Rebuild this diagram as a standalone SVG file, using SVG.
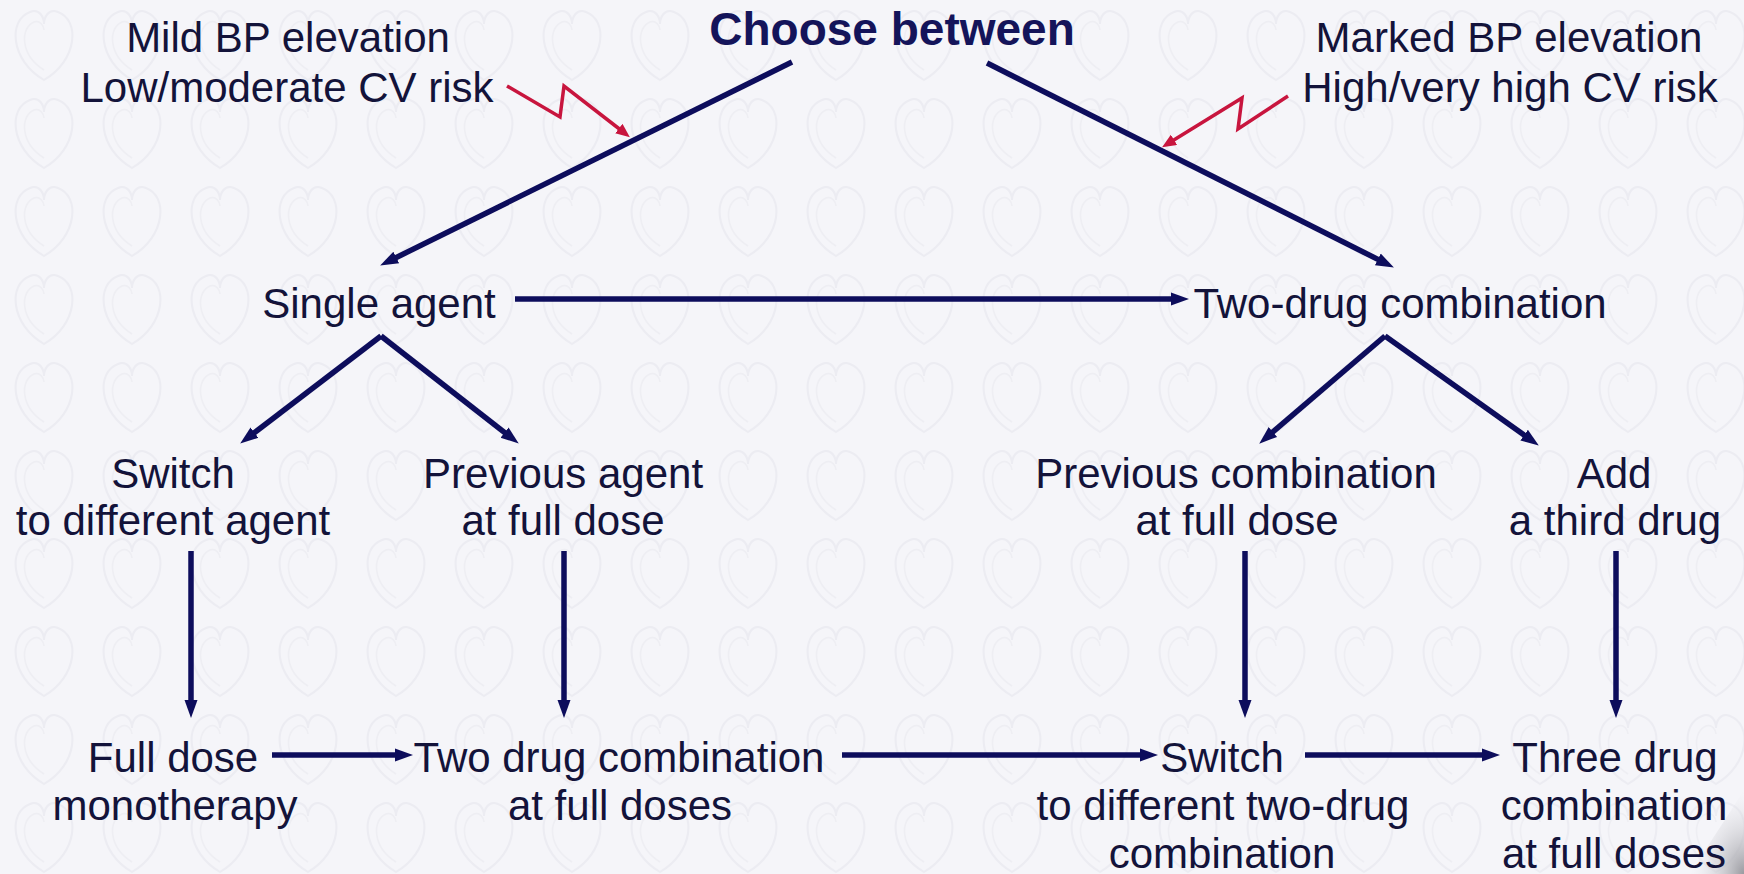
<svg xmlns="http://www.w3.org/2000/svg" width="1744" height="874" viewBox="0 0 1744 874">
  <style>
    .t { font-family: "Liberation Sans", Arial, sans-serif; font-size: 42px; fill: #13133a; text-anchor: middle; }
    .title { font-family: "Liberation Sans", Arial, sans-serif; font-size: 46px; font-weight: bold; fill: #14145a; text-anchor: middle; }
    .c { stroke: #0d0d5c; stroke-width: 5.5; fill: none; marker-end: url(#ah); }
    .r { stroke: #c8153e; stroke-width: 3.5; fill: none; stroke-linejoin: miter; marker-end: url(#rh); }
  </style>
  <defs>
    <marker id="ah" markerUnits="userSpaceOnUse" markerWidth="18" markerHeight="16" refX="5" refY="8" orient="auto">
      <path d="M0,1.5 L18,8 L0,14.5 z" fill="#0d0d5c"/>
    </marker>
    <marker id="rh" markerUnits="userSpaceOnUse" markerWidth="14" markerHeight="12" refX="4" refY="6" orient="auto">
      <path d="M0,0 L14,6 L0,12 z" fill="#c8153e"/>
    </marker>
    <pattern id="bg" patternUnits="userSpaceOnUse" width="88" height="88">
      <rect width="88" height="88" fill="#f5f5f9"/>
      <path d="M44,80 C10,60 8,20 30,12 C40,8 44,18 44,24 C44,18 48,8 58,12 C80,20 78,60 44,80 z" fill="none" stroke="#ececf2" stroke-width="2"/>
      <path d="M44,70 C20,55 20,28 34,22 C40,20 44,26 44,30" fill="none" stroke="#eeeef3" stroke-width="1.5"/>
    </pattern>
    <radialGradient id="curl" cx="1" cy="1" r="1">
      <stop offset="0" stop-color="#9a9aa0"/>
      <stop offset="1" stop-color="#e8e8ec" stop-opacity="0"/>
    </radialGradient>
  </defs>

  <rect width="1744" height="874" fill="url(#bg)"/>
  <path d="M1744,790 C1725,820 1705,850 1690,874 L1744,874 z" fill="url(#curl)"/>

  <g id="connectors">
    <line class="c" x1="792" y1="62" x2="391.8" y2="259.7"/>
    <line class="c" x1="987" y1="63" x2="1382.3" y2="261.6"/>
    <line class="c" x1="515" y1="299" x2="1176" y2="299"/>
    <line class="c" x1="381" y1="336" x2="250.5" y2="435.7"/>
    <line class="c" x1="381" y1="336" x2="508.5" y2="435.6"/>
    <line class="c" x1="1385" y1="336" x2="1269.1" y2="435.2"/>
    <line class="c" x1="1385" y1="336" x2="1528.2" y2="438"/>
    <line class="c" x1="191" y1="551" x2="191" y2="705"/>
    <line class="c" x1="564" y1="551" x2="564" y2="705"/>
    <line class="c" x1="1245" y1="551" x2="1245" y2="705"/>
    <line class="c" x1="1616" y1="551" x2="1616" y2="705"/>
    <line class="c" x1="272" y1="755" x2="400" y2="755"/>
    <line class="c" x1="842" y1="755" x2="1145" y2="755"/>
    <line class="c" x1="1305" y1="755" x2="1487" y2="755"/>
    <polyline class="r" points="507,86 560,117 564,86 622,131"/>
    <polyline class="r" points="1288,96 1238,129 1242,98 1170.6,141.9"/>
  </g>

  <g id="mild">
    <text class="t" x="288" y="52">Mild BP elevation</text>
    <text class="t" x="287" y="102">Low/moderate CV risk</text>
  </g>
  <g id="choose">
    <text class="title" x="892" y="45">Choose between</text>
  </g>
  <g id="marked">
    <text class="t" x="1509" y="52">Marked BP elevation</text>
    <text class="t" x="1510" y="102">High/very high CV risk</text>
  </g>
  <g id="single">
    <text class="t" x="379" y="318">Single agent</text>
  </g>
  <g id="twodrug">
    <text class="t" x="1400" y="318">Two-drug combination</text>
  </g>
  <g id="switch-agent">
    <text class="t" x="173" y="488">Switch</text>
    <text class="t" x="173" y="535">to different agent</text>
  </g>
  <g id="prev-agent">
    <text class="t" x="563" y="488">Previous agent</text>
    <text class="t" x="563" y="535">at full dose</text>
  </g>
  <g id="prev-comb">
    <text class="t" x="1236" y="488">Previous combination</text>
    <text class="t" x="1237" y="535">at full dose</text>
  </g>
  <g id="add-third">
    <text class="t" x="1614" y="488">Add</text>
    <text class="t" x="1615" y="535">a third drug</text>
  </g>
  <g id="full-dose">
    <text class="t" x="173" y="772">Full dose</text>
    <text class="t" x="175" y="820">monotherapy</text>
  </g>
  <g id="two-drug-full">
    <text class="t" x="619" y="772">Two drug combination</text>
    <text class="t" x="620" y="820">at full doses</text>
  </g>
  <g id="switch-two">
    <text class="t" x="1222" y="772">Switch</text>
    <text class="t" x="1223" y="820">to different two-drug</text>
    <text class="t" x="1222" y="868">combination</text>
  </g>
  <g id="three-drug">
    <text class="t" x="1615" y="772">Three drug</text>
    <text class="t" x="1614" y="820">combination</text>
    <text class="t" x="1614" y="868">at full doses</text>
  </g>
</svg>
